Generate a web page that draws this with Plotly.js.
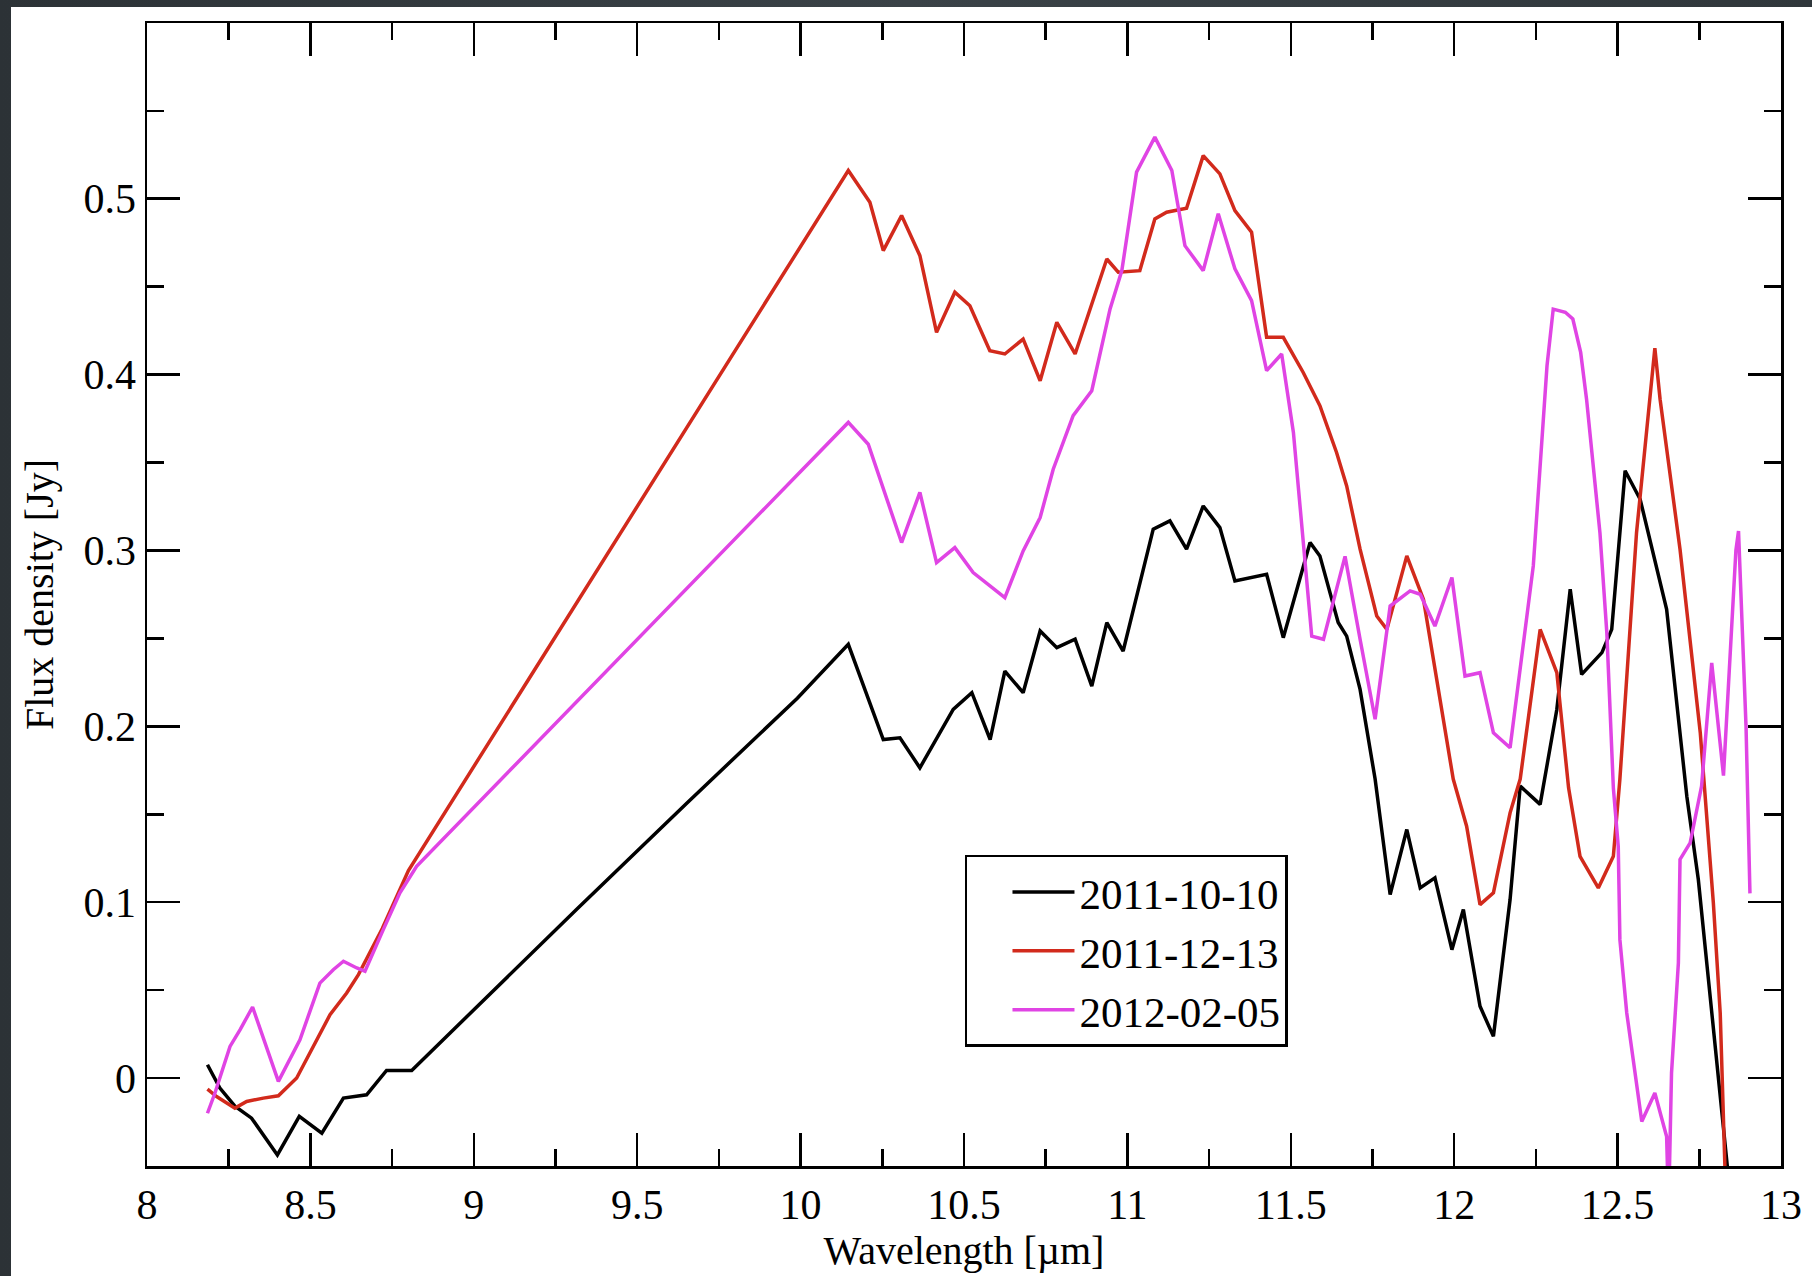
<!DOCTYPE html>
<html>
<head>
<meta charset="utf-8">
<script src="https://cdn.plot.ly/plotly-3.0.1.min.js"></script>
<style>
  html, body { margin: 0; padding: 0; width: 1812px; height: 1276px; overflow: hidden;
    background: linear-gradient(90deg, #2c3236 0%, #3a4247 50%, #30373b 100%); }
  #chart { position: absolute; left: 11px; top: 7px; width: 1801px; height: 1269px; background: #fff; }
</style>
</head>
<body>
<div id="chart"></div>
<script>
// ---- Data ----
const seriesNames = ["2011-10-10", "2011-12-13", "2012-02-05"];

const wl_20111010 = [8.185, 8.223, 8.269, 8.32, 8.399, 8.466, 8.535, 8.601, 8.672, 8.733, 8.81,
  8.978, 9.315, 9.65, 9.99, 10.146, 10.253, 10.304, 10.365, 10.467, 10.524, 10.580, 10.625, 10.681,
  10.733, 10.784, 10.840, 10.891, 10.937, 10.987, 11.079, 11.130, 11.181, 11.232, 11.283, 11.329,
  11.375, 11.426, 11.477, 11.559, 11.589, 11.645, 11.671, 11.712, 11.758, 11.804, 11.855, 11.896,
  11.941, 11.993, 12.028, 12.079, 12.120, 12.171, 12.202, 12.263, 12.314, 12.355, 12.390, 12.452,
  12.482, 12.523, 12.569, 12.650, 12.712, 12.747, 12.778, 12.809, 12.84];
const flux_20111010 = [0.0076, -0.0057, -0.016, -0.0228, -0.0437, -0.0218, -0.0313, -0.0114, -0.0095, 0.0043, 0.0043,
  0.035, 0.096, 0.156, 0.216, 0.2466, 0.1925, 0.1935, 0.1764, 0.2096, 0.2191, 0.1925, 0.2314, 0.2191,
  0.2542, 0.2447, 0.2495, 0.2229, 0.259, 0.2428, 0.3121, 0.3168, 0.3007, 0.3253, 0.313, 0.2826,
  0.2846, 0.2865, 0.2504, 0.3045, 0.2969, 0.259, 0.2513, 0.221, 0.17, 0.1043, 0.1413, 0.1081,
  0.1138, 0.073, 0.0958, 0.0408, 0.0237, 0.1015, 0.166, 0.1556, 0.2096, 0.2779, 0.2295, 0.2419,
  0.2551, 0.3453, 0.3291, 0.2665, 0.16, 0.1129, 0.056, -0.001, -0.058];

const wl_20111213 = [8.185, 8.213, 8.269, 8.305, 8.356, 8.402, 8.458, 8.509, 8.56, 8.611, 8.647,
  8.72, 8.8, 10.146, 10.212, 10.253, 10.309, 10.365, 10.416, 10.472, 10.518, 10.579, 10.625, 10.681,
  10.733, 10.784, 10.840, 10.937, 10.972, 11.038, 11.084, 11.12, 11.181, 11.232, 11.283, 11.329,
  11.380, 11.426, 11.477, 11.538, 11.589, 11.640, 11.671, 11.712, 11.763, 11.794, 11.855, 11.906,
  11.957, 11.997, 12.038, 12.079, 12.120, 12.171, 12.202, 12.263, 12.314, 12.35, 12.385, 12.441,
  12.487, 12.507, 12.558, 12.599, 12.614, 12.630, 12.691, 12.753, 12.793, 12.814, 12.823, 12.83];
const flux_20111213 = [-0.0063, -0.0105, -0.0171, -0.0133, -0.0114, -0.0101, 0.0, 0.018, 0.036, 0.0484, 0.0588,
  0.085, 0.118, 0.516, 0.498, 0.4705, 0.4904, 0.4676, 0.424, 0.4468, 0.4391, 0.4135, 0.4117, 0.4202,
  0.3965, 0.4297, 0.4117, 0.4657, 0.4582, 0.4591, 0.4885, 0.4923, 0.4946, 0.5245, 0.5141, 0.4932,
  0.4809, 0.4212, 0.4212, 0.4012, 0.3823, 0.3557, 0.3367, 0.3007, 0.2627, 0.2551, 0.2969, 0.2722,
  0.2153, 0.17, 0.1432, 0.0986, 0.1053, 0.1508, 0.17, 0.2551, 0.2305, 0.165, 0.1261, 0.1081,
  0.1261, 0.17, 0.3102, 0.386, 0.415, 0.386, 0.3007, 0.1963, 0.0996, 0.037, -0.02, -0.06];

const wl_20120205 = [8.185, 8.208, 8.254, 8.285, 8.323, 8.402, 8.468, 8.529, 8.57, 8.601, 8.642,
  8.667, 8.723, 8.774, 8.825, 10.146, 10.207, 10.309, 10.365, 10.416, 10.472, 10.528, 10.625, 10.681,
  10.733, 10.773, 10.834, 10.891, 10.947, 10.983, 11.028, 11.084, 11.136, 11.176, 11.232, 11.278,
  11.329, 11.380, 11.426, 11.472, 11.508, 11.538, 11.564, 11.6, 11.666, 11.712, 11.758, 11.804,
  11.865, 11.896, 11.941, 11.993, 12.033, 12.079, 12.120, 12.171, 12.242, 12.284, 12.303, 12.340,
  12.363, 12.387, 12.405, 12.446, 12.467, 12.487, 12.502, 12.507, 12.528, 12.574, 12.614, 12.650,
  12.656, 12.665, 12.686, 12.691, 12.722, 12.757, 12.788, 12.824, 12.862, 12.870, 12.878, 12.893, 12.905];
const flux_20120205 = [-0.02, -0.0085, 0.018, 0.0275, 0.0404, -0.0019, 0.0218, 0.054, 0.0616, 0.0664, 0.0626,
  0.0607, 0.0844, 0.1053, 0.1204, 0.3728, 0.3604, 0.3045, 0.333, 0.2931, 0.3016, 0.2874, 0.2732, 0.2997,
  0.3187, 0.3462, 0.3766, 0.3908, 0.4373, 0.4591, 0.5151, 0.535, 0.516, 0.4733, 0.4591, 0.4914,
  0.4601, 0.442, 0.4022, 0.4117, 0.3671, 0.3064, 0.2513, 0.2495, 0.2966, 0.2495, 0.204, 0.2684,
  0.277, 0.2751, 0.257, 0.2846, 0.2286, 0.2305, 0.1963, 0.1878, 0.2912, 0.405, 0.4372, 0.4354,
  0.4316, 0.4126, 0.386, 0.31, 0.2533, 0.165, 0.1318, 0.0787, 0.037, -0.0247, -0.0085, -0.0332,
  -0.075, 0.0028, 0.0655, 0.1243, 0.1337, 0.166, 0.236, 0.172, 0.30, 0.311, 0.27, 0.2, 0.105];

const xTitle = "Wavelength [µm]";
const yTitle = "Flux density [Jy]";

// ---- Styling ----
const colors = ["#000000", "#d22a1c", "#e044e4"];
const serif = "Liberation Serif, Times New Roman, serif";

const traces = [
  {x: wl_20111010, y: flux_20111010},
  {x: wl_20111213, y: flux_20111213},
  {x: wl_20120205, y: flux_20120205}
].map((d, i) => ({
  x: d.x, y: d.y, type: "scatter", mode: "lines", name: seriesNames[i],
  line: {color: colors[i], width: 3.5}, cliponaxis: true
}));

const axisCommon = {
  showline: true, linecolor: "#000", linewidth: 2.5, mirror: "ticks",
  ticks: "inside", ticklen: 33, tickwidth: 2.5, tickcolor: "#000",
  showgrid: false, zeroline: false,
  tickfont: {family: serif, size: 42, color: "#000"}
};

const layout = {
  width: 1801, height: 1269,
  margin: {l: 136, r: 31, t: 16, b: 110},
  paper_bgcolor: "#ffffff", plot_bgcolor: "#ffffff",
  showlegend: true,
  legend: {
    x: 0.5006, y: 0.2721, xanchor: "left", yanchor: "top",
    bgcolor: "#ffffff", bordercolor: "#000", borderwidth: 2.5,
    font: {family: serif, size: 43, color: "#000"},
    itemwidth: 62, indentation: 40, tracegroupgap: 0
  },
  xaxis: Object.assign({}, axisCommon, {
    range: [8, 13], tick0: 8, dtick: 0.5,
    minor: {dtick: 0.25, ticks: "inside", ticklen: 17, tickwidth: 2.5, tickcolor: "#000", showgrid: false},
    title: {text: xTitle, font: {family: serif, size: 40, color: "#000"}, standoff: 8}
  }),
  yaxis: Object.assign({}, axisCommon, {
    range: [-0.05, 0.5999], tick0: 0, dtick: 0.1,
    minor: {dtick: 0.05, tick0: 0, ticks: "inside", ticklen: 17, tickwidth: 2.5, tickcolor: "#000", showgrid: false},
    title: {text: yTitle, font: {family: serif, size: 40, color: "#000"}, standoff: 18}
  })
};

Plotly.newPlot("chart", traces, layout, {displayModeBar: false, staticPlot: true});
</script>
</body>
</html>
